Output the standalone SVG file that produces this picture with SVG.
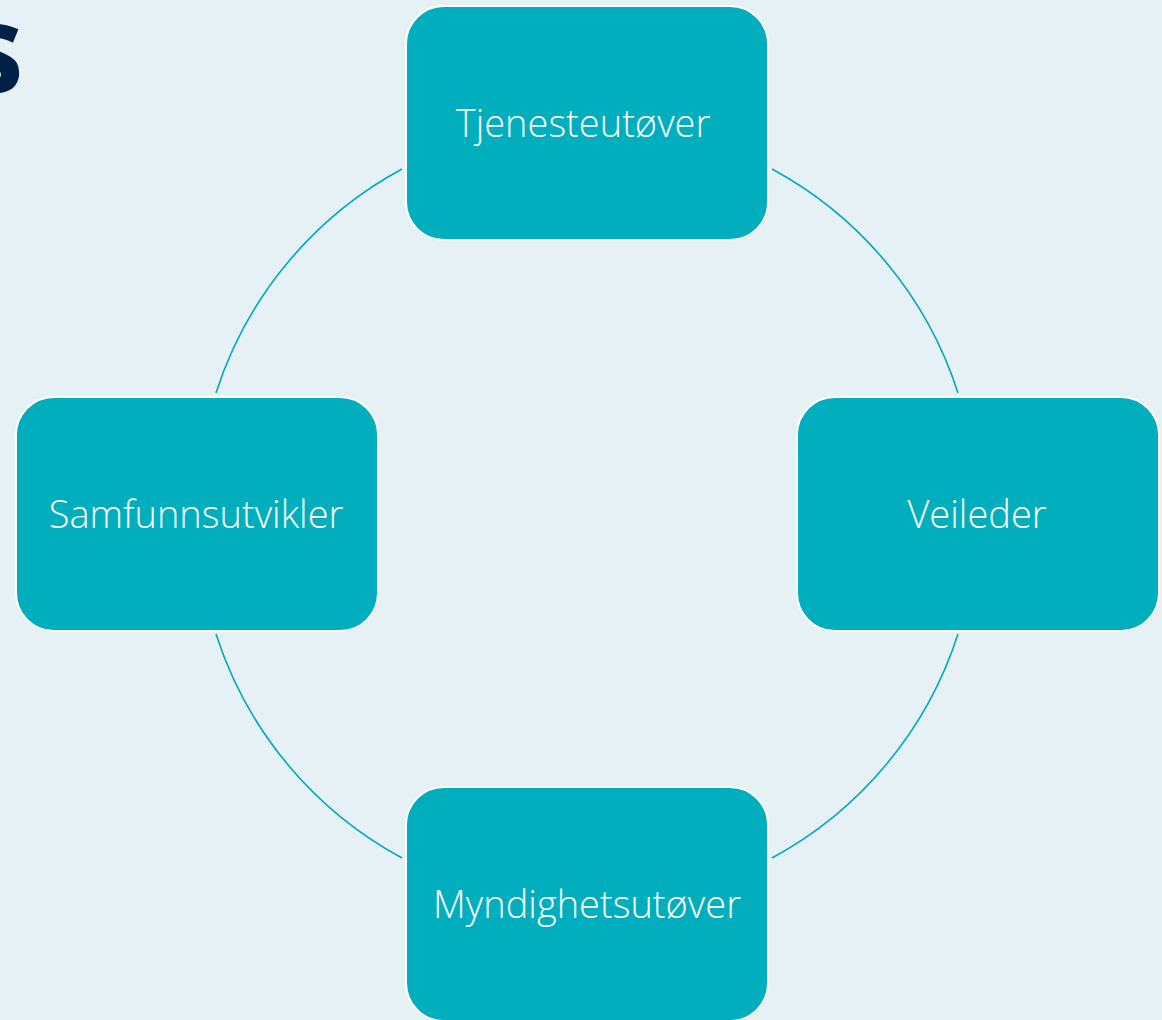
<svg xmlns="http://www.w3.org/2000/svg" width="1162" height="1020" viewBox="0 0 1162 1020">
<style>
.bg{fill:#E6F1F6}
.box{fill:#00AEBD;stroke:#FFFFFF;stroke-width:2}
.lbl{fill:#FFFFFF;font-family:"Open Sans","Liberation Sans",sans-serif;font-weight:300;font-size:38px;text-anchor:middle}
.arc{fill:none;stroke:#00A9B8;stroke-width:1.6}
.title{fill:#002147;font-family:"Open Sans","Liberation Sans",sans-serif;font-weight:700;font-size:124px;text-anchor:end}
</style>
<rect class="bg" x="0" y="0" width="1162" height="1020"/>
<text class="title" x="24" y="93">s</text>
<g id="connectors">
<path class="arc" d="M772,169 A390,390 0 0 1 958,393"/>
<path class="arc" d="M958,634 A390,390 0 0 1 772,858"/>
<path class="arc" d="M402,858 A390,390 0 0 1 216,634"/>
<path class="arc" d="M216,393 A390,390 0 0 1 402,169"/>
</g>
<g id="node-tjenesteutover">
<rect class="box" x="406" y="6" width="362" height="234" rx="38"/>
<text class="lbl" x="583" y="137">Tjenesteutøver</text>
</g>
<g id="node-veileder">
<rect class="box" x="797" y="397" width="362" height="234" rx="38"/>
<text class="lbl" x="977" y="528">Veileder</text>
</g>
<g id="node-myndighetsutover">
<rect class="box" x="406" y="787" width="362" height="234" rx="38"/>
<text class="lbl" x="587" y="918">Myndighetsutøver</text>
</g>
<g id="node-samfunnsutvikler">
<rect class="box" x="16" y="397" width="362" height="234" rx="38"/>
<text class="lbl" x="196" y="528">Samfunnsutvikler</text>
</g>
</svg>
